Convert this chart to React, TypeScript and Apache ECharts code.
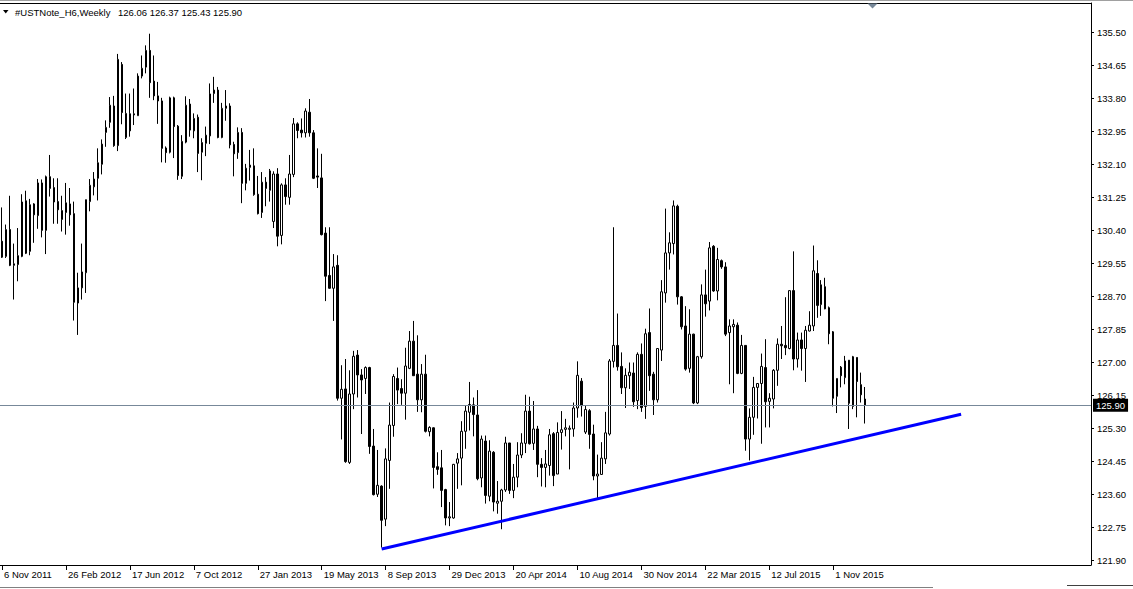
import React, { useEffect, useRef } from "react";
import * as echarts from "echarts";

// ---------- data ----------
const symbolTitle = "#USTNote_H6,Weekly";
const firstWeek = Date.UTC(2011, 10, 6); // 6 Nov 2011 (first visible weekly bar)
const slotCount = 273; // bars + empty chart-shift area to the right
const monthNames = ["Jan", "Feb", "Mar", "Apr", "May", "Jun", "Jul", "Aug", "Sep", "Oct", "Nov", "Dec"];

const tickLabels = [
  "6 Nov 2011", "26 Feb 2012", "17 Jun 2012", "7 Oct 2012", "27 Jan 2013", "19 May 2013", "8 Sep 2013",
  "29 Dec 2013", "20 Apr 2014", "10 Aug 2014", "30 Nov 2014", "22 Mar 2015", "12 Jul 2015", "1 Nov 2015",
];

const yTickValues = [
  121.9, 122.75, 123.6, 124.45, 125.3, 126.15, 127.0, 127.85, 128.7, 129.55, 130.4, 131.25, 132.1, 132.95,
  133.8, 134.65, 135.5,
];

const opens = [
  130.12, 129.73, 130.42, 129.5, 129.52, 129.73, 131.16, 129.86, 131.08, 130.78, 131.62, 130.4, 131.78, 131.5, 131.14, 130.68, 130.86, 131.08, 130.83, 128.53,
  128.92, 129.31, 131.14, 131.52, 131.74, 132.1, 132.92, 133.18, 133.6, 132.58, 134.67, 132.79, 133.4, 133.37, 133.35, 134.37, 134.6, 135.03, 134.24, 133.86,
  133.73, 132.52, 132.41, 133.81, 133.08, 131.79, 132.67, 133.65, 132.96, 133.31, 132.41, 132.64, 132.83, 133.92, 134.01, 132.79, 133.54, 133.6, 132.61, 132.4,
  132.92, 131.61, 132.02, 132.06, 131.33, 130.86, 131.64, 131.43, 130.63, 131.85, 130.27, 131.57, 131.25, 131.84, 133.14, 132.98, 132.91, 133.44, 132.91, 131.8,
  131.75, 130.33, 129.24, 128.91, 129.5, 126.08, 126.32, 124.43, 126.19, 127.19, 126.68, 126.59, 126.87, 124.85, 123.61, 123.82, 122.97, 124.48, 125.38, 126.59,
  126.33, 126.21, 126.85, 127.55, 126.7, 126.04, 126.7, 125.22, 125.32, 124.32, 124.29, 123.73, 123.0, 123.0, 124.41, 124.54, 125.23, 125.72, 125.91, 125.65,
  124.03, 124.98, 123.56, 124.69, 123.38, 123.43, 123.72, 124.93, 123.71, 124.05, 124.62, 124.92, 125.75, 124.92, 125.29, 124.38, 124.3, 124.35, 125.17, 124.13,
  125.2, 125.28, 125.28, 125.29, 125.83, 126.52, 125.21, 125.76, 125.16, 124.08, 124.12, 124.52, 125.16, 127.03, 127.44, 126.9, 126.35, 126.66, 126.73, 126.02,
  127.21, 125.87, 127.77, 126.7, 126.04, 127.32, 128.79, 129.82, 130.06, 131.02, 128.69, 127.94, 126.85, 127.73, 125.96, 127.15, 128.74, 128.58, 129.99, 128.84,
  129.62, 129.46, 127.77, 127.92, 127.96, 126.72, 127.44, 125.03, 125.59, 126.36, 126.46, 126.87, 126.0, 126.06, 126.8, 127.47, 127.44, 127.36, 128.85, 127.09,
  127.58, 127.36, 127.81, 127.94, 129.29, 128.49, 128.95, 128.41, 127.79, 126.13, 126.88, 126.61, 127.06, 125.87, 127.13, 126.43, 126.06,
];
const highs = [
  130.99, 130.55, 131.29, 130.06, 130.46, 131.33, 131.42, 131.21, 131.1, 131.72, 131.71, 131.81, 132.34, 131.74, 131.74, 131.29, 131.62, 131.49, 131.14, 129.31,
  130.06, 131.19, 131.72, 131.9, 132.51, 132.74, 133.23, 133.83, 133.86, 134.94, 134.73, 133.92, 133.92, 134.05, 134.44, 134.9, 135.16, 135.46, 134.9, 134.22,
  133.81, 132.56, 133.84, 133.84, 133.11, 132.85, 133.85, 133.78, 133.41, 133.38, 132.77, 133.07, 134.18, 134.35, 134.09, 133.68, 134.01, 133.67, 132.68, 133.05,
  133.03, 132.11, 132.47, 132.51, 131.8, 131.9, 131.77, 131.98, 131.92, 132.0, 131.61, 131.74, 132.34, 133.29, 133.18, 133.28, 133.54, 133.78, 132.98, 132.51,
  132.37, 130.48, 130.48, 129.79, 129.76, 126.93, 127.09, 126.8, 127.3, 127.32, 126.83, 126.9, 126.89, 125.29, 124.75, 123.84, 124.79, 125.97, 126.7, 126.87,
  126.57, 127.38, 127.81, 128.07, 127.7, 126.96, 127.2, 125.36, 125.33, 124.69, 124.75, 123.75, 123.41, 124.39, 124.67, 125.49, 125.89, 126.5, 126.1, 126.29,
  125.12, 125.12, 125.0, 124.72, 123.95, 123.75, 125.09, 124.93, 124.39, 124.95, 125.18, 126.17, 126.12, 126.01, 125.37, 124.54, 124.75, 125.29, 125.21, 125.46,
  125.75, 125.55, 125.38, 125.97, 127.03, 126.6, 125.89, 125.8, 125.4, 124.63, 124.95, 125.73, 127.09, 130.48, 128.26, 127.26, 126.85, 127.0, 127.0, 127.26,
  127.49, 127.87, 128.39, 126.76, 127.36, 129.12, 130.96, 130.35, 131.17, 131.06, 128.71, 128.45, 128.37, 127.74, 127.17, 129.01, 129.39, 130.1, 130.02, 129.95,
  129.65, 129.58, 128.11, 128.11, 128.03, 127.71, 127.44, 125.82, 126.63, 126.46, 127.23, 127.6, 126.21, 126.83, 127.62, 127.94, 128.68, 128.85, 129.86, 127.77,
  127.77, 127.94, 128.32, 130.01, 129.63, 129.12, 129.18, 128.44, 127.81, 126.59, 126.91, 127.17, 127.06, 127.17, 127.13, 126.74, 126.37,
];
const lows = [
  129.69, 129.69, 129.48, 128.62, 129.09, 129.71, 129.79, 129.76, 130.08, 130.44, 130.22, 129.79, 131.27, 130.57, 130.57, 130.37, 130.29, 130.52, 128.08, 127.71,
  128.62, 128.79, 130.89, 131.3, 131.17, 131.84, 132.55, 133.04, 132.55, 132.44, 133.13, 132.75, 132.81, 133.11, 133.35, 134.31, 134.44, 133.81, 133.75, 133.14,
  132.15, 132.14, 132.38, 132.26, 131.7, 131.72, 132.64, 132.81, 132.77, 131.9, 131.69, 132.31, 132.62, 133.68, 132.77, 132.77, 133.22, 132.51, 131.79, 132.24,
  131.1, 131.43, 131.68, 131.29, 130.81, 130.72, 131.02, 131.14, 130.46, 129.99, 130.04, 131.06, 131.06, 131.77, 132.77, 132.79, 132.79, 132.81, 131.72, 131.49,
  130.27, 128.58, 128.9, 128.07, 126.02, 125.02, 124.42, 124.39, 125.8, 126.1, 125.16, 126.19, 124.65, 123.58, 123.54, 122.24, 122.79, 123.75, 125.09, 125.93,
  125.91, 125.53, 126.83, 126.66, 125.73, 125.72, 125.2, 125.1, 123.76, 124.11, 123.28, 122.81, 122.79, 122.98, 123.75, 123.84, 124.78, 125.25, 125.1, 123.97,
  123.79, 123.37, 123.43, 123.17, 123.11, 122.71, 123.67, 123.62, 123.51, 123.79, 124.54, 124.67, 124.89, 124.75, 124.05, 123.81, 123.79, 124.09, 123.82, 124.13,
  124.76, 125.1, 124.25, 125.09, 125.58, 125.61, 125.16, 124.78, 123.97, 123.51, 124.11, 124.39, 125.12, 126.87, 126.79, 126.19, 125.83, 126.32, 125.86, 125.8,
  125.73, 125.55, 126.27, 125.65, 125.97, 127.04, 128.54, 129.39, 129.78, 128.49, 127.85, 126.79, 126.74, 125.93, 125.93, 127.1, 128.18, 128.34, 128.82, 128.6,
  129.41, 127.68, 126.44, 126.21, 126.7, 126.7, 124.73, 124.48, 125.14, 125.56, 124.91, 125.33, 125.33, 125.82, 126.4, 127.09, 127.19, 127.34, 126.8, 126.87,
  126.79, 126.5, 127.8, 127.81, 128.15, 128.2, 128.37, 127.47, 125.87, 125.7, 126.36, 126.44, 125.29, 125.8, 125.59, 125.97, 125.43,
];
const closes = [
  129.71, 130.42, 129.5, 129.54, 129.75, 131.13, 129.81, 131.06, 130.8, 131.62, 130.4, 131.78, 131.48, 131.13, 130.93, 130.91, 131.11, 130.8, 128.55, 128.92,
  129.33, 131.19, 131.56, 131.72, 132.14, 132.62, 133.05, 133.62, 132.58, 134.8, 133.43, 133.41, 132.96, 133.4, 134.37, 134.57, 135.03, 134.2, 133.86, 133.73,
  132.51, 132.4, 133.81, 133.07, 131.81, 132.69, 133.62, 132.98, 133.28, 132.38, 132.66, 132.85, 133.91, 134.01, 132.79, 133.54, 133.6, 132.6, 132.37, 132.92,
  131.61, 132.0, 132.08, 131.32, 130.83, 131.64, 131.48, 131.93, 131.85, 130.25, 131.57, 131.27, 131.85, 133.14, 132.97, 132.91, 133.47, 132.91, 131.74, 131.77,
  130.29, 129.22, 128.91, 129.46, 126.08, 126.31, 124.45, 126.19, 127.16, 126.68, 126.55, 126.87, 124.84, 123.6, 123.84, 122.94, 124.52, 125.39, 126.64, 126.29,
  126.21, 126.91, 127.55, 126.66, 126.04, 126.7, 125.23, 125.33, 124.3, 124.25, 123.71, 123.0, 123.03, 124.38, 124.52, 125.23, 125.75, 125.92, 125.66, 124.01,
  125.03, 123.58, 124.72, 123.41, 123.43, 123.72, 124.93, 123.71, 124.05, 124.62, 124.93, 125.75, 124.91, 125.29, 124.38, 124.3, 124.39, 125.14, 124.09, 125.2,
  125.27, 125.32, 125.31, 125.83, 126.67, 125.89, 125.79, 125.15, 124.08, 124.13, 124.54, 125.19, 127.04, 127.44, 126.89, 126.35, 126.67, 126.75, 125.99, 127.21,
  125.84, 127.74, 126.66, 126.04, 127.36, 128.82, 129.82, 130.08, 131.03, 128.69, 127.92, 126.83, 127.73, 125.96, 127.15, 128.74, 128.51, 129.95, 128.84, 129.65,
  129.46, 127.73, 127.94, 127.98, 126.72, 127.44, 125.03, 125.59, 126.36, 126.46, 126.9, 125.99, 126.08, 126.8, 127.47, 127.43, 127.38, 128.85, 127.09, 127.58,
  127.36, 127.83, 127.96, 129.36, 128.47, 129.0, 128.38, 127.74, 126.08, 126.59, 126.66, 127.04, 125.95, 127.15, 126.51, 126.17, 125.9,
];

// blue support trend line: [bar index, price]
const trendLine = [
  [95, 122.2],
  [240, 125.67],
];

// ---------- derived ----------
const categories = Array.from({ length: slotCount }, (_, i) => {
  const d = new Date(firstWeek + i * 7 * 86400000);
  return `${d.getUTCDate()} ${monthNames[d.getUTCMonth()]} ${d.getUTCFullYear()}`;
});
const candleData = opens.map((o, i) => [o, closes[i], lows[i], highs[i]]);
const last = opens.length - 1;
const lastClose = closes[last];
const headerValues = [opens[last], highs[last], lows[last], closes[last]].map((v) => v.toFixed(2)).join(" ");

const FONT = "'Liberation Sans', Arial, sans-serif";
const FS = 9.5;

export default function App() {
  const ref = useRef<HTMLDivElement>(null);

  useEffect(() => {
    if (!ref.current) return;
    const chart = echarts.init(ref.current, null, { renderer: "svg" });
    const isTick = (_i: number, v: string) => tickLabels.includes(v);
    chart.setOption({
      animation: false,
      backgroundColor: "#ffffff",
      grid: { left: -1, right: 42, top: 3, bottom: 24, containLabel: false },
      xAxis: {
        type: "category",
        data: categories,
        boundaryGap: true,
        axisLine: { show: true, lineStyle: { color: "#000", width: 1 } },
        axisTick: { show: true, alignWithLabel: true, interval: isTick, length: 5, lineStyle: { color: "#000" } },
        axisLabel: {
          interval: isTick,
          align: "left",
          margin: 4,
          padding: [0, 0, 0, 2],
          color: "#000",
          fontSize: FS,
          fontFamily: FONT,
          hideOverlap: false,
          showMinLabel: true,
        },
        splitLine: { show: false },
      },
      yAxis: {
        type: "value",
        position: "right",
        min: 121.79,
        max: 136.25,
        axisLine: { show: true, lineStyle: { color: "#000", width: 1 } },
        axisTick: { show: true, length: 3, customValues: yTickValues, lineStyle: { color: "#000" } },
        axisLabel: {
          customValues: yTickValues,
          formatter: (v: number) => v.toFixed(2),
          margin: 6,
          color: "#000",
          fontSize: FS,
          fontFamily: FONT,
        },
        splitLine: { show: false },
      },
      series: [
        {
          type: "candlestick",
          data: candleData,
          barWidth: 2,
          itemStyle: {
            color: "#ffffff",
            color0: "#000000",
            borderColor: "#000000",
            borderColor0: "#000000",
            borderColorDoji: "#000000",
            borderWidth: 1,
          },
          markLine: {
            silent: true,
            symbol: "none",
            animation: false,
            lineStyle: { color: "#778899", type: "solid", width: 1 },
            label: {
              show: true,
              position: "end",
              distance: 2,
              formatter: () => lastClose.toFixed(2),
              color: "#ffffff",
              backgroundColor: "#000000",
              padding: [2, 3, 1, 3],
              fontSize: FS,
              fontFamily: FONT,
            },
            data: [{ yAxis: lastClose }],
          },
          z: 2,
        },
        {
          type: "line",
          data: trendLine,
          symbol: "none",
          lineStyle: { color: "#0000ff", width: 3 },
          z: 3,
          silent: true,
        },
      ],
      graphic: [
        { type: "line", shape: { x1: 0, y1: 0.5, x2: 1133, y2: 0.5 }, style: { stroke: "#a0a0a0", lineWidth: 1 } },
        { type: "line", shape: { x1: 0, y1: 3.5, x2: 1091.5, y2: 3.5 }, style: { stroke: "#000", lineWidth: 1 } },
        { type: "line", shape: { x1: 0, y1: 587.5, x2: 933, y2: 587.5 }, style: { stroke: "#808080", lineWidth: 1 } },
        { type: "line", shape: { x1: 1067, y1: 585.5, x2: 1133, y2: 585.5 }, style: { stroke: "#404040", lineWidth: 1 } },
        {
          type: "polygon",
          shape: { points: [[3, 10], [8.5, 10], [5.75, 13.5]] },
          style: { fill: "#000" },
        },
        {
          type: "polygon",
          shape: { points: [[867.5, 3.5], [877.5, 3.5], [872.5, 8.5]] },
          style: { fill: "#778899" },
        },
        {
          type: "text",
          x: 15,
          y: 12,
          style: { text: symbolTitle, fill: "#000", fontSize: FS, fontFamily: FONT, verticalAlign: "middle" },
        },
        {
          type: "text",
          x: 118,
          y: 12,
          style: { text: headerValues, fill: "#000", fontSize: FS, fontFamily: FONT, verticalAlign: "middle" },
        },
      ],
    });
    return () => chart.dispose();
  }, []);

  return (
    <div
      ref={ref}
      style={{ position: "absolute", left: 0, top: 0, width: 1133, height: 589, background: "#fff" }}
    />
  );
}
